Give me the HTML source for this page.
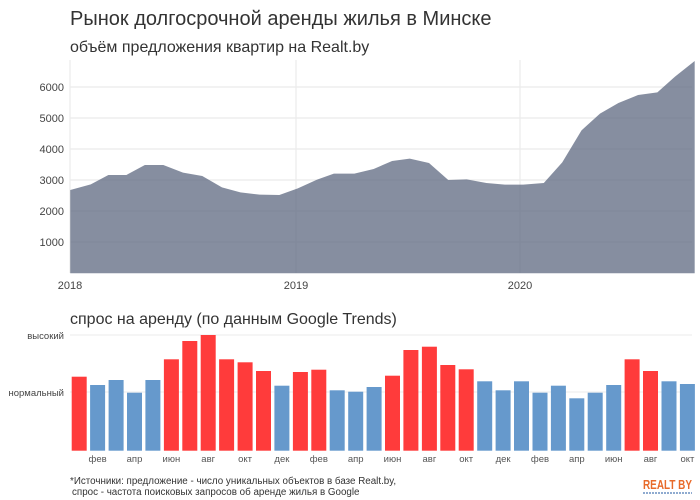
<!DOCTYPE html>
<html><head><meta charset="utf-8"><style>
body{margin:0;background:#fff;}
svg{display:block;font-family:"Liberation Sans",sans-serif;}
</style></head><body>
<svg width="700" height="500" viewBox="0 0 700 500" xmlns="http://www.w3.org/2000/svg">
<rect width="700" height="500" fill="#fff"/>
<text x="70" y="25" font-size="20" fill="#333">Рынок долгосрочной аренды жилья в Минске</text>
<text x="70" y="52" font-size="16" fill="#333">объём предложения квартир на Realt.by</text>
<g stroke="#ebebeb" stroke-width="1.2">
<line x1="70" x2="692" y1="87" y2="87"/><line x1="70" x2="692" y1="118" y2="118"/>
<line x1="70" x2="692" y1="149" y2="149"/><line x1="70" x2="692" y1="180" y2="180"/>
<line x1="70" x2="692" y1="211" y2="211"/><line x1="70" x2="692" y1="242" y2="242"/>
<line x1="70" x2="70" y1="60" y2="273"/><line x1="296" x2="296" y1="60" y2="273"/><line x1="520" x2="520" y1="60" y2="273"/>
</g>
<g transform="translate(60,55) scale(0.41,0.3333)">
<polygon fill="#5e6880" fill-opacity="0.75" points="25,655 25,405 75,388 118,360 162,360 207,330 252,330 300,353 347,363 395,397 440,412 487,419 535,420 580,400 627,374 668,356 718,356 765,342 810,318 853,311 900,324 947,375 992,373 1040,384 1085,389 1130,389 1180,384 1225,322 1272,226 1317,176 1362,144 1410,120 1457,112 1500,65 1548,18 1548,655"/>
</g>
<g font-size="11" fill="#444" text-anchor="end">
<text x="64" y="91">6000</text><text x="64" y="122">5000</text><text x="64" y="153">4000</text>
<text x="64" y="184">3000</text><text x="64" y="215">2000</text><text x="64" y="246">1000</text>
</g>
<g font-size="11" fill="#444" text-anchor="middle">
<text x="70" y="289">2018</text><text x="296" y="289">2019</text><text x="520" y="289">2020</text>
</g>
<text x="70" y="324" font-size="16" fill="#333">спрос на аренду (по данным Google Trends)</text>
<line x1="70" x2="692" y1="335" y2="335" stroke="#ebebeb"/>
<line x1="70" x2="692" y1="392" y2="392" stroke="#ebebeb"/>
<text x="64" y="339" font-size="9.5" fill="#444" text-anchor="end">высокий</text>
<text x="64" y="396" font-size="9.5" fill="#444" text-anchor="end">нормальный</text>
<g>
<rect x="71.7" y="376.7" width="15" height="74" fill="#ff3b3b"/>
<rect x="90.1" y="385" width="15" height="65.7" fill="#6699cc"/>
<rect x="108.6" y="380" width="15" height="70.7" fill="#6699cc"/>
<rect x="127.0" y="392.7" width="15" height="58" fill="#6699cc"/>
<rect x="145.4" y="380" width="15" height="70.7" fill="#6699cc"/>
<rect x="163.9" y="359.3" width="15" height="91.4" fill="#ff3b3b"/>
<rect x="182.3" y="341" width="15" height="109.7" fill="#ff3b3b"/>
<rect x="200.7" y="335" width="15" height="115.7" fill="#ff3b3b"/>
<rect x="219.1" y="359.3" width="15" height="91.4" fill="#ff3b3b"/>
<rect x="237.6" y="362.3" width="15" height="88.4" fill="#ff3b3b"/>
<rect x="256.0" y="371" width="15" height="79.7" fill="#ff3b3b"/>
<rect x="274.4" y="385.7" width="15" height="65" fill="#6699cc"/>
<rect x="292.9" y="372" width="15" height="78.7" fill="#ff3b3b"/>
<rect x="311.3" y="369.7" width="15" height="81" fill="#ff3b3b"/>
<rect x="329.7" y="390.3" width="15" height="60.4" fill="#6699cc"/>
<rect x="348.2" y="391.7" width="15" height="59" fill="#6699cc"/>
<rect x="366.6" y="387" width="15" height="63.7" fill="#6699cc"/>
<rect x="385.0" y="375.7" width="15" height="75" fill="#ff3b3b"/>
<rect x="403.4" y="350" width="15" height="100.7" fill="#ff3b3b"/>
<rect x="421.9" y="346.7" width="15" height="104" fill="#ff3b3b"/>
<rect x="440.3" y="365" width="15" height="85.7" fill="#ff3b3b"/>
<rect x="458.7" y="369.3" width="15" height="81.4" fill="#ff3b3b"/>
<rect x="477.2" y="381.3" width="15" height="69.4" fill="#6699cc"/>
<rect x="495.6" y="390.3" width="15" height="60.4" fill="#6699cc"/>
<rect x="514.0" y="381.3" width="15" height="69.4" fill="#6699cc"/>
<rect x="532.5" y="392.7" width="15" height="58" fill="#6699cc"/>
<rect x="550.9" y="385.7" width="15" height="65" fill="#6699cc"/>
<rect x="569.3" y="398.3" width="15" height="52.4" fill="#6699cc"/>
<rect x="587.7" y="392.7" width="15" height="58" fill="#6699cc"/>
<rect x="606.2" y="385" width="15" height="65.7" fill="#6699cc"/>
<rect x="624.6" y="359.3" width="15" height="91.4" fill="#ff3b3b"/>
<rect x="643.0" y="371" width="15" height="79.7" fill="#ff3b3b"/>
<rect x="661.5" y="381.3" width="15" height="69.4" fill="#6699cc"/>
<rect x="679.9" y="384" width="15" height="66.7" fill="#6699cc"/>
</g>
<g font-size="9.5" fill="#555" text-anchor="middle">
<text x="97.6" y="462">фев</text><text x="134.5" y="462">апр</text><text x="171.4" y="462">июн</text>
<text x="208.2" y="462">авг</text><text x="245.1" y="462">окт</text><text x="281.9" y="462">дек</text>
<text x="318.8" y="462">фев</text><text x="355.7" y="462">апр</text><text x="392.5" y="462">июн</text>
<text x="429.4" y="462">авг</text><text x="466.2" y="462">окт</text><text x="503.1" y="462">дек</text>
<text x="540.0" y="462">фев</text><text x="576.8" y="462">апр</text><text x="613.7" y="462">июн</text>
<text x="650.5" y="462">авг</text><text x="687.4" y="462">окт</text>
</g>
<text x="70" y="484" font-size="9.8" fill="#333">*Источники: предложение - число уникальных объектов в базе Realt.by,</text>
<text x="72" y="495" font-size="9.8" fill="#333">спрос - частота поисковых запросов об аренде жилья в Google</text>
<text x="643" y="489" font-size="13" font-weight="bold" fill="#e86a2a" textLength="49" lengthAdjust="spacingAndGlyphs">REALT BY</text>
<line x1="643" x2="692" y1="493" y2="493" stroke="#6a8fc0" stroke-width="1.5" stroke-dasharray="2,1"/>
</svg>
</body></html>
